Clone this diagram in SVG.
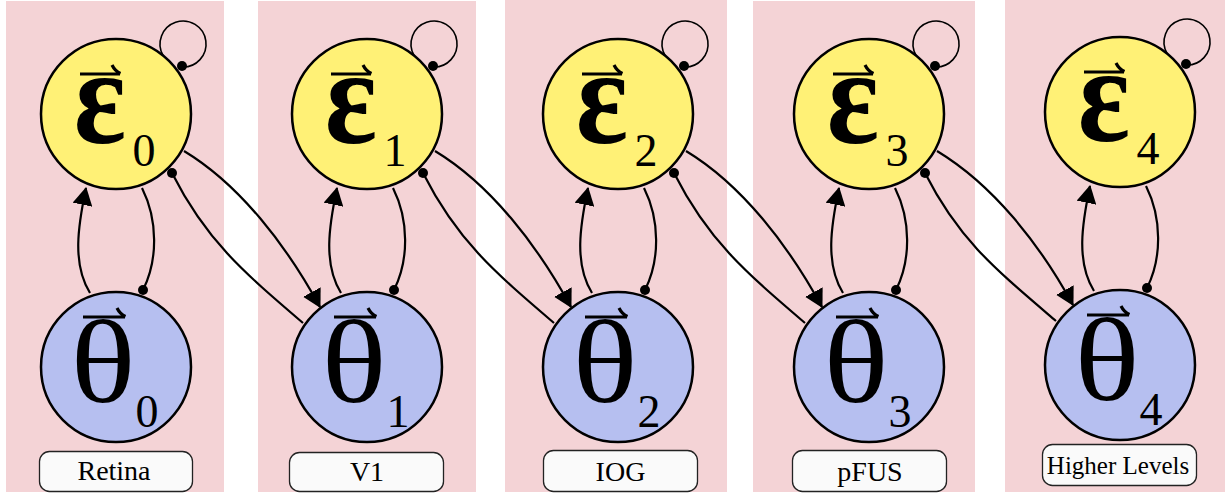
<svg xmlns="http://www.w3.org/2000/svg" width="1225" height="493" viewBox="0 0 1225 493">
<style>
.col{fill:#f4d3d6}
.node{stroke:#000;stroke-width:2.5}
.eps .node{fill:#fff176}
.theta .node{fill:#b6bff0}
.vec{fill:none;stroke:#000;stroke-width:3.2}
.big{text-anchor:middle;fill:#000}
.epsg{font-size:136px;font-weight:bold}
.thg{font-size:118px}
.sub{font-size:46px;text-anchor:middle;fill:#000}
.box{fill:#fafafa;stroke:#222;stroke-width:1.3}
.lbl{font-size:28px;text-anchor:middle;fill:#000}
.edge{fill:none;stroke:#000;stroke-width:2.2}
.loop{fill:none;stroke:#000;stroke-width:1.6}
.dot{fill:#000}
</style>
<defs>
<marker id="arr" viewBox="0 0 18 20" refX="17" refY="10" markerWidth="18" markerHeight="20" markerUnits="userSpaceOnUse" orient="auto">
<path d="M0,0 L18,10 L0,20 z" fill="#000"/>
</marker>
</defs>
<g id="columns">
<rect class="col" x="6" y="1" width="218" height="491"/>
<rect class="col" x="258" y="1" width="218" height="491"/>
<rect class="col" x="505" y="0" width="222" height="492"/>
<rect class="col" x="753" y="1" width="222" height="491"/>
<rect class="col" x="1005" y="0" width="220" height="492"/>
</g>
<g id="labels" font-family="Liberation Serif, serif">
<g id="label-retina"><rect class="box" x="39.5" y="451.5" width="153" height="40" rx="10"/><text class="lbl" x="114" y="480">Retina</text></g>
<g id="label-v1"><rect class="box" x="289.5" y="452.5" width="154" height="39" rx="10"/><text class="lbl" x="367" y="481">V1</text></g>
<g id="label-iog"><rect class="box" x="543.5" y="450.5" width="154" height="41" rx="10"/><text class="lbl" x="620.5" y="481">IOG</text></g>
<g id="label-pfus"><rect class="box" x="792.5" y="450.5" width="154" height="41" rx="10"/><text class="lbl" x="870" y="481">pFUS</text></g>
<g id="label-higher"><rect class="box" x="1042.5" y="444.5" width="154" height="41" rx="10"/><text class="lbl" x="1118" y="474" style="font-size:25px">Higher Levels</text></g>
</g>
<g id="nodes" font-family="Liberation Serif, serif">
<g id="eps0" class="eps" transform="translate(116,114)"><circle class="node" r="75"/><text class="big epsg" transform="translate(-16,29) scale(0.9,1.02)">ε</text><path class="vec" d="M-36,-40 H4 M4.5,-40.5 C1,-42 -2,-45 -4,-49"/><text class="sub" x="28" y="52">0</text></g>
<g id="eps1" class="eps" transform="translate(367,114)"><circle class="node" r="75"/><text class="big epsg" transform="translate(-16,29) scale(0.9,1.02)">ε</text><path class="vec" d="M-36,-40 H4 M4.5,-40.5 C1,-42 -2,-45 -4,-49"/><text class="sub" x="28" y="52">1</text></g>
<g id="eps2" class="eps" transform="translate(618,114)"><circle class="node" r="75"/><text class="big epsg" transform="translate(-16,29) scale(0.9,1.02)">ε</text><path class="vec" d="M-36,-40 H4 M4.5,-40.5 C1,-42 -2,-45 -4,-49"/><text class="sub" x="28" y="52">2</text></g>
<g id="eps3" class="eps" transform="translate(869,114)"><circle class="node" r="75"/><text class="big epsg" transform="translate(-16,29) scale(0.9,1.02)">ε</text><path class="vec" d="M-36,-40 H4 M4.5,-40.5 C1,-42 -2,-45 -4,-49"/><text class="sub" x="28" y="52">3</text></g>
<g id="eps4" class="eps" transform="translate(1120,112)"><circle class="node" r="75"/><text class="big epsg" transform="translate(-16,29) scale(0.9,1.02)">ε</text><path class="vec" d="M-36,-40 H4 M4.5,-40.5 C1,-42 -2,-45 -4,-49"/><text class="sub" x="28" y="52">4</text></g>
<g id="theta0" class="theta" transform="translate(116,367)"><circle class="node" r="75"/><text class="big thg" transform="translate(-13,35) scale(1.15,1)">θ</text><path class="vec" d="M-33,-50 H9 M9.5,-50.5 C6,-52 3,-55 1,-59"/><text class="sub" x="31" y="60">0</text></g>
<g id="theta1" class="theta" transform="translate(367,367)"><circle class="node" r="75"/><text class="big thg" transform="translate(-13,35) scale(1.15,1)">θ</text><path class="vec" d="M-33,-50 H9 M9.5,-50.5 C6,-52 3,-55 1,-59"/><text class="sub" x="31" y="60">1</text></g>
<g id="theta2" class="theta" transform="translate(618,367)"><circle class="node" r="75"/><text class="big thg" transform="translate(-13,35) scale(1.15,1)">θ</text><path class="vec" d="M-33,-50 H9 M9.5,-50.5 C6,-52 3,-55 1,-59"/><text class="sub" x="31" y="60">2</text></g>
<g id="theta3" class="theta" transform="translate(869,367)"><circle class="node" r="75"/><text class="big thg" transform="translate(-13,35) scale(1.15,1)">θ</text><path class="vec" d="M-33,-50 H9 M9.5,-50.5 C6,-52 3,-55 1,-59"/><text class="sub" x="31" y="60">3</text></g>
<g id="theta4" class="theta" transform="translate(1120,365)"><circle class="node" r="75"/><text class="big thg" transform="translate(-13,35) scale(1.15,1)">θ</text><path class="vec" d="M-33,-50 H9 M9.5,-50.5 C6,-52 3,-55 1,-59"/><text class="sub" x="31" y="60">4</text></g>
</g>
<g id="connectors">
<g transform="translate(0,0)">
<path class="loop" d="M163.1,55.5 A23,23 0 1 1 181.8,67"/><circle class="dot" cx="182" cy="66" r="5"/>
<path class="edge" d="M90,293 C72,264 78,226 86,188" marker-end="url(#arr)"/>
<path class="edge" d="M142,188 C158,220 158,260 143,290"/><circle class="dot" cx="143" cy="290" r="5"/>
<path class="edge" d="M184,151 C239.9,184.8 286.4,245.4 320,307" marker-end="url(#arr)"/>
<path class="edge" d="M303,323 C242.2,271 205.75,239.75 172,173"/><circle class="dot" cx="172" cy="173" r="5"/>
</g>
<g transform="translate(251,0)">
<path class="loop" d="M163.1,55.5 A23,23 0 1 1 181.8,67"/><circle class="dot" cx="182" cy="66" r="5"/>
<path class="edge" d="M90,293 C72,264 78,226 86,188" marker-end="url(#arr)"/>
<path class="edge" d="M142,188 C158,220 158,260 143,290"/><circle class="dot" cx="143" cy="290" r="5"/>
<path class="edge" d="M184,151 C239.9,184.8 286.4,245.4 320,307" marker-end="url(#arr)"/>
<path class="edge" d="M303,323 C242.2,271 205.75,239.75 172,173"/><circle class="dot" cx="172" cy="173" r="5"/>
</g>
<g transform="translate(502,0)">
<path class="loop" d="M163.1,55.5 A23,23 0 1 1 181.8,67"/><circle class="dot" cx="182" cy="66" r="5"/>
<path class="edge" d="M90,293 C72,264 78,226 86,188" marker-end="url(#arr)"/>
<path class="edge" d="M142,188 C158,220 158,260 143,290"/><circle class="dot" cx="143" cy="290" r="5"/>
<path class="edge" d="M184,151 C239.9,184.8 286.4,245.4 320,307" marker-end="url(#arr)"/>
<path class="edge" d="M303,323 C242.2,271 205.75,239.75 172,173"/><circle class="dot" cx="172" cy="173" r="5"/>
</g>
<g transform="translate(753,0)">
<path class="loop" d="M163.1,55.5 A23,23 0 1 1 181.8,67"/><circle class="dot" cx="182" cy="66" r="5"/>
<path class="edge" d="M90,293 C72,264 78,226 86,188" marker-end="url(#arr)"/>
<path class="edge" d="M142,188 C158,220 158,260 143,290"/><circle class="dot" cx="143" cy="290" r="5"/>
<path class="edge" d="M184,151 C239.9,184.8 286.4,243.4 320,305" marker-end="url(#arr)"/>
<path class="edge" d="M303,321 C242.2,269 205.75,239.75 172,173"/><circle class="dot" cx="172" cy="173" r="5"/>
</g>
<g transform="translate(1004,-2)">
<path class="loop" d="M163.1,55.5 A23,23 0 1 1 181.8,67"/><circle class="dot" cx="182" cy="66" r="5"/>
<path class="edge" d="M90,293 C72,264 78,226 86,188" marker-end="url(#arr)"/>
<path class="edge" d="M142,188 C158,220 158,260 143,290"/><circle class="dot" cx="143" cy="290" r="5"/>
</g>
</g>
</svg>
